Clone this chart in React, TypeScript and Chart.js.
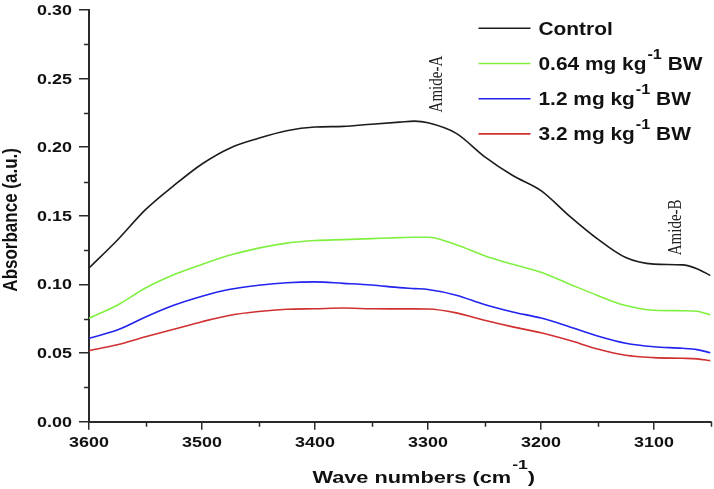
import React, { useEffect, useRef } from "react";
import { Chart, registerables } from "chart.js";

Chart.register(...registerables);

// ---- Data ----
const wavenumbers = [3600, 3575, 3550, 3525, 3500, 3475, 3450, 3425, 3400, 3375, 3350, 3325, 3312, 3300, 3275, 3250, 3225, 3200, 3175, 3150, 3125, 3100, 3075, 3062, 3050];
const control = [0.112, 0.1322, 0.1545, 0.172, 0.1878, 0.1995, 0.2065, 0.212, 0.2147, 0.2152, 0.2168, 0.2183, 0.2190, 0.2178, 0.2101, 0.1932, 0.1794, 0.1684, 0.150, 0.1332, 0.1196, 0.1148, 0.1143, 0.1115, 0.1065];
const dose064 = [0.0754, 0.0849, 0.0974, 0.107, 0.1146, 0.1214, 0.1265, 0.1301, 0.132, 0.1327, 0.1334, 0.1341, 0.1344, 0.1344, 0.129, 0.121, 0.1147, 0.1089, 0.1004, 0.092, 0.0846, 0.0812, 0.0809, 0.0805, 0.0778];
const dose12 = [0.0608, 0.0668, 0.0763, 0.0848, 0.0914, 0.0965, 0.0994, 0.1013, 0.1019, 0.1008, 0.0996, 0.0977, 0.0970, 0.0963, 0.0922, 0.0854, 0.080, 0.0755, 0.0692, 0.0625, 0.0572, 0.0546, 0.0535, 0.0525, 0.0503];
const dose32 = [0.0518, 0.0561, 0.0619, 0.0674, 0.0729, 0.0776, 0.0803, 0.0819, 0.0823, 0.0828, 0.0823, 0.0822, 0.0822, 0.0821, 0.0793, 0.0739, 0.0691, 0.0648, 0.0593, 0.053, 0.0484, 0.0467, 0.0462, 0.0458, 0.0445];

const seriesLabels = ["Control", "0.64 mg kg⁻¹ BW", "1.2 mg kg⁻¹ BW", "3.2 mg kg⁻¹ BW"];
const legendParts = [
  { base: "Control", sup: "", rest: "" },
  { base: "0.64 mg kg", sup: "-1", rest: " BW" },
  { base: "1.2 mg kg", sup: "-1", rest: " BW" },
  { base: "3.2 mg kg", sup: "-1", rest: " BW" },
];
const seriesColors = ["#1c1c1c", "#80f040", "#2323f0", "#d03030"];

const yTicks = [0, 0.05, 0.1, 0.15, 0.2, 0.25, 0.3];
const yMinorTicks = [0.025, 0.075, 0.125, 0.175, 0.225, 0.275];
const xTicks = [3600, 3500, 3400, 3300, 3200, 3100];
const xMinorTicks = [3550, 3450, 3350, 3250, 3150, 3050];

const yTitle = "Absorbance (a.u.)";
const xTitleParts = { base: "Wave numbers (cm", sup: "-1", rest: ")" };

const annotations = [
  { text: "Amide-A", x: 3292, y: 0.246 },
  { text: "Amide-B", x: 3080, y: 0.1416 },
];

const AXIS_COLOR = "#2a2a2a";
const TEXT_COLOR = "#111";
const SANS = "'Liberation Sans', Arial, sans-serif";
const SERIF = "'Liberation Serif', 'Times New Roman', serif";

// draw text horizontally stretched by sx
function wideText(ctx: CanvasRenderingContext2D, text: string, x: number, y: number, font: string, sx: number, align: CanvasTextAlign) {
  ctx.save();
  ctx.font = font;
  ctx.textAlign = align;
  ctx.textBaseline = "alphabetic";
  ctx.translate(x, y);
  ctx.scale(sx, 1);
  ctx.fillText(text, 0, 0);
  ctx.restore();
}

function textW(ctx: CanvasRenderingContext2D, text: string, font: string, sx: number) {
  ctx.save();
  ctx.font = font;
  const w = ctx.measureText(text).width * sx;
  ctx.restore();
  return w;
}

const overlayPlugin = {
  id: "overlay",
  afterDraw(chart: any) {
    const ctx = chart.ctx as CanvasRenderingContext2D;
    const xs = chart.scales.x;
    const ys = chart.scales.y;
    const area = chart.chartArea;
    ctx.save();
    // minor ticks
    ctx.strokeStyle = AXIS_COLOR;
    ctx.lineWidth = 1.5;
    ctx.beginPath();
    yMinorTicks.forEach((v) => {
      const py = Math.round(ys.getPixelForValue(v)) + 0.5;
      ctx.moveTo(area.left - 5, py);
      ctx.lineTo(area.left, py);
    });
    xMinorTicks.forEach((v) => {
      const px = Math.round(xs.getPixelForValue(v)) + 0.5;
      ctx.moveTo(px, area.bottom);
      ctx.lineTo(px, area.bottom + 5);
    });
    ctx.stroke();

    ctx.fillStyle = TEXT_COLOR;
    // tick labels
    const tickFont = `bold 14px ${SANS}`;
    const tsx = 1.28;
    yTicks.forEach((v) => {
      const py = ys.getPixelForValue(v);
      wideText(ctx, v.toFixed(2), area.left - 17, py + 5, tickFont, tsx, "right");
    });
    xTicks.forEach((v) => {
      const px = xs.getPixelForValue(v);
      wideText(ctx, String(v), px, area.bottom + 25, tickFont, tsx, "center");
    });

    // y title (rotated, thickness stretched)
    ctx.save();
    ctx.font = `bold 17px ${SANS}`;
    ctx.textAlign = "center";
    ctx.textBaseline = "middle";
    ctx.translate(11, (area.top + area.bottom) / 2 + 4);
    ctx.rotate(-Math.PI / 2);
    ctx.scale(1, 1.2);
    ctx.fillText(yTitle, 0, 0);
    ctx.restore();

    // x title with superscript
    const xsx = 1.36;
    const xf = `bold 16px ${SANS}`;
    const xsf = `bold 13px ${SANS}`;
    const w1 = textW(ctx, xTitleParts.base, xf, xsx);
    const w2 = textW(ctx, xTitleParts.sup, xsf, xsx);
    const w3 = textW(ctx, xTitleParts.rest, xf, xsx);
    const total = w1 + w2 + w3 + 1;
    let tx = (area.left + area.right) / 2 + 24 - total / 2;
    const tb = area.bottom + 61;
    wideText(ctx, xTitleParts.base, tx, tb, xf, xsx, "left");
    tx += w1 + 1;
    wideText(ctx, xTitleParts.sup, tx, tb - 14, xsf, xsx, "left");
    tx += w2;
    wideText(ctx, xTitleParts.rest, tx, tb, xf, xsx, "left");

    // annotations (rotated serif text)
    ctx.fillStyle = "#222";
    annotations.forEach((a) => {
      const px = xs.getPixelForValue(a.x);
      const py = ys.getPixelForValue(a.y);
      ctx.save();
      ctx.font = `15px ${SERIF}`;
      ctx.textAlign = "center";
      ctx.textBaseline = "middle";
      ctx.translate(px, py);
      ctx.rotate(-Math.PI / 2);
      ctx.scale(1, 1.2);
      ctx.fillText(a.text, 0, 0);
      ctx.restore();
    });

    // legend
    const legLeft = area.right - 232;
    const lineLen = 52;
    const textLeft = legLeft + 60;
    const rowH = 35.2;
    const firstRow = area.top + 18.3;
    const lsx = 1.16;
    const lf = `bold 18px ${SANS}`;
    const lsf = `bold 14px ${SANS}`;
    legendParts.forEach((p, i) => {
      const ry = firstRow + i * rowH;
      ctx.strokeStyle = seriesColors[i];
      ctx.lineWidth = 1.6;
      ctx.beginPath();
      ctx.moveTo(legLeft, ry);
      ctx.lineTo(legLeft + lineLen, ry);
      ctx.stroke();
      ctx.fillStyle = TEXT_COLOR;
      const base = ry + 6.5;
      let cx = textLeft;
      wideText(ctx, p.base, cx, base, lf, lsx, "left");
      cx += textW(ctx, p.base, lf, lsx);
      if (p.sup) {
        wideText(ctx, p.sup, cx + 1, base - 11, lsf, lsx, "left");
        cx += textW(ctx, p.sup, lsf, lsx) + 1;
        wideText(ctx, p.rest, cx, base, lf, lsx, "left");
      }
    });
    ctx.restore();
  },
};

export default function App() {
  const canvasRef = useRef<HTMLCanvasElement | null>(null);

  useEffect(() => {
    if (!canvasRef.current) return;
    const datasets = [control, dose064, dose12, dose32].map((vals, i) => ({
      label: seriesLabels[i],
      data: wavenumbers.map((w, j) => ({ x: w, y: vals[j] })),
      borderColor: seriesColors[i],
      backgroundColor: seriesColors[i],
      borderWidth: 1.6,
      pointRadius: 0,
      cubicInterpolationMode: "monotone" as const,
      fill: false,
    }));
    const chart = new Chart(canvasRef.current, {
      type: "line",
      data: { datasets },
      options: {
        responsive: false,
        animation: false,
        devicePixelRatio: 1,
        layout: { padding: { top: 10, right: 3.5, left: 0, bottom: 0 } },
        plugins: { legend: { display: false }, tooltip: { enabled: false } },
        scales: {
          x: {
            type: "linear",
            reverse: true,
            min: 3050,
            max: 3600,
            afterBuildTicks: (s: any) => {
              s.ticks = xTicks.map((v) => ({ value: v }));
            },
            afterFit: (s: any) => {
              s.height = 67.3;
            },
            grid: { display: true, drawOnChartArea: false, drawTicks: true, tickLength: 8, color: AXIS_COLOR, lineWidth: 1.5 },
            border: { display: true, color: AXIS_COLOR, width: 2 },
            ticks: { display: false },
            title: { display: false },
          },
          y: {
            type: "linear",
            min: 0,
            max: 0.3,
            afterBuildTicks: (s: any) => {
              s.ticks = yTicks.map((v) => ({ value: v }));
            },
            afterFit: (s: any) => {
              s.width = 89;
            },
            grid: { display: true, drawOnChartArea: false, drawTicks: true, tickLength: 10, color: AXIS_COLOR, lineWidth: 1.5 },
            border: { display: true, color: AXIS_COLOR, width: 2 },
            ticks: { display: false },
            title: { display: false },
          },
        },
      },
      plugins: [overlayPlugin],
    });
    return () => chart.destroy();
  }, []);

  return (
    <div style={{ position: "absolute", left: 0, top: 0, width: 714, height: 489, background: "#fff" }}>
      <canvas ref={canvasRef} width={714} height={489} style={{ display: "block", width: 714, height: 489 }} />
    </div>
  );
}
